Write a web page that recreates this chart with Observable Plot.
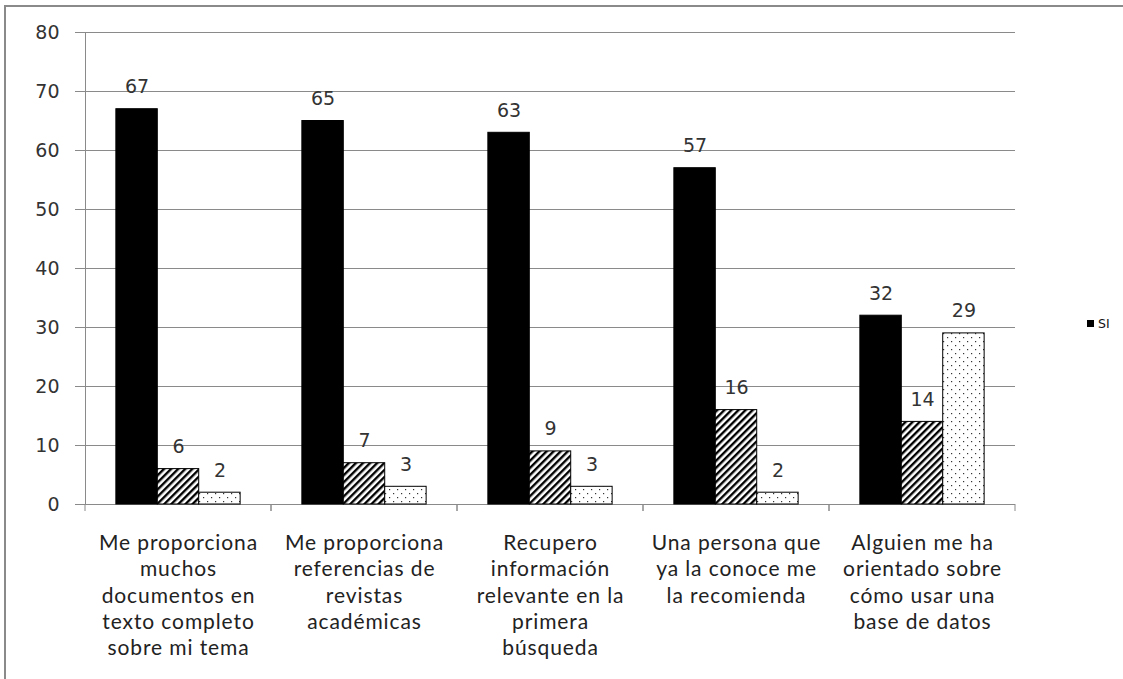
<!DOCTYPE html>
<html>
<head>
<meta charset="utf-8">
<script src="https://cdn.jsdelivr.net/npm/d3@7"></script>
<script src="https://cdn.jsdelivr.net/npm/@observablehq/plot@0.6"></script>
<style>
  html, body { margin: 0; padding: 0; background: white; overflow: hidden; }
  #wrap { position: relative; width: 1123px; height: 679px; }
  #border { position: absolute; left: 4px; top: 5px; width: 1200px; height: 800px;
            border-left: 2px solid #8a8a8a; border-top: 2px solid #8a8a8a; pointer-events: none; }
  #legend { position: absolute; left: 1087px; top: 316px; font-family: "DejaVu Sans", sans-serif;
            font-size: 12.5px; color: #111; display: flex; align-items: center; white-space: nowrap; }
  #legend .sw { width: 7px; height: 7px; background: black; margin-right: 4px; }
</style>
</head>
<body>
<div id="wrap"><div id="chart"></div><div id="border"></div><div id="legend"></div></div>
<script>
const categories = [
  "Me proporciona\nmuchos\ndocumentos en\ntexto completo\nsobre mi tema",
  "Me proporciona\nreferencias de\nrevistas\nacadémicas",
  "Recupero\ninformación\nrelevante en la\nprimera\nbúsqueda",
  "Una persona que\nya la conoce me\nla recomienda",
  "Alguien me ha\norientado sobre\ncómo usar una\nbase de datos"
];
const seriesNames = ["SI", "NO", "NS/NC"];
const siValues = [67, 65, 63, 57, 32];
const noValues = [6, 7, 9, 16, 14];
const nsncValues = [2, 3, 3, 2, 29];
const yTicks = [0, 10, 20, 30, 40, 50, 60, 70, 80];
const legendLabels = ["SI"];

const valueSets = [siValues, noValues, nsncValues];
const rows = [];
categories.forEach((c, i) => {
  seriesNames.forEach((s, j) => rows.push({category: c, series: s, value: valueSets[j][i]}));
});

function edgeTicks(index, scales, values, dims) {
  const g = d3.create("svg:g");
  const y0 = dims.height - dims.marginBottom;
  g.append("path")
    .attr("d", `M${dims.marginLeft},${y0}v7M${dims.width - dims.marginRight},${y0}v7`)
    .attr("stroke", "#8a8a8a").attr("fill", "none");
  return g.node();
}

const svg = Plot.plot({
  width: 1123,
  height: 679,
  marginLeft: 83,
  marginRight: 106,
  marginTop: 32,
  marginBottom: 175,
  style: {fontFamily: "DejaVu Sans, sans-serif", background: "transparent"},
  fx: {domain: categories, padding: 0, axis: null},
  x: {domain: seriesNames, paddingInner: 0, paddingOuter: 0.745, axis: null, round: false},
  y: {domain: [0, 80], axis: null},
  color: {domain: seriesNames, range: ["black", "url(#hatch)", "url(#dots)"]},
  marks: [
    Plot.gridY(yTicks, {stroke: "#8a8a8a", strokeOpacity: 1}),
    Plot.axisY(yTicks, {tickSize: 10, tickPadding: 16, stroke: "#8a8a8a", fill: "#333",
                        fontSize: 19, label: null}),
    Plot.frame({anchor: "left", facetAnchor: "left", stroke: "#8a8a8a"}),
    Plot.ruleY([0], {stroke: "#8a8a8a"}),
    edgeTicks,
    Plot.barY(rows, {fx: "category", x: "series", y: "value", fill: "series",
                     stroke: "black", strokeWidth: 1}),
    Plot.text(rows, {fx: "category", x: "series", y: "value", text: d => String(d.value),
                     lineAnchor: "bottom", dy: -16, fontSize: 19, fill: "#333"}),
    Plot.text(categories, {fx: d => d, text: d => d, frameAnchor: "bottom", lineAnchor: "top",
                           dy: 27, fontSize: 21, lineHeight: 1.25, fontFamily: "Lato",
                           fill: "#222"})
  ]
});

d3.select(svg).selectAll('g[font-family="Lato"]').attr("letter-spacing", "0.9px");

d3.select(svg).insert("defs", ":first-child").html(`
  <pattern id="hatch" patternUnits="userSpaceOnUse" width="5" height="5" patternTransform="rotate(45)">
    <rect width="5" height="5" fill="white"/><rect width="2.4" height="5" fill="black"/>
  </pattern>
  <pattern id="dots" patternUnits="userSpaceOnUse" width="8" height="8">
    <rect width="8" height="8" fill="white"/>
    <rect x="1" y="1" width="1.2" height="1.2" fill="#333"/>
    <rect x="5" y="5" width="1.2" height="1.2" fill="#333"/>
  </pattern>`);

document.getElementById("chart").appendChild(svg);

const legend = document.getElementById("legend");
legendLabels.forEach(l => {
  const sw = document.createElement("span"); sw.className = "sw";
  const t = document.createElement("span"); t.textContent = l;
  legend.appendChild(sw); legend.appendChild(t);
});
</script>
</body>
</html>
